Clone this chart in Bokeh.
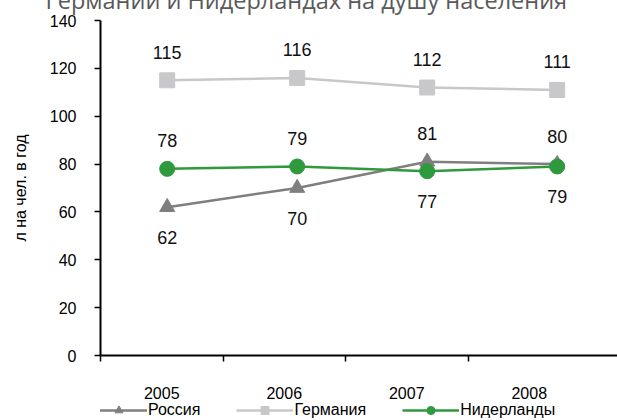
from bokeh.plotting import figure
from bokeh.layouts import column
from bokeh.models import (ColumnDataSource, Range1d, FixedTicker, LinearAxis,
                          Legend, LegendItem, CustomJSTickFormatter)
from bokeh.embed import file_html
from bokeh.resources import INLINE

# ---- data ----
years = ["2005", "2006", "2007", "2008"]
russia = [62, 70, 81, 80]
germany = [115, 116, 112, 111]
netherlands = [78, 79, 77, 79]
y_ticks = [0, 20, 40, 60, 80, 100, 120, 140]
title_text = "Германии и Нидерландах на душу населения"
y_label = "л на чел. в год"
series_names = ["Россия", "Германия", "Нидерланды"]

# label placement (above / below the point)
russia_pos = ["below", "below", "above", "above"]
germany_pos = ["above", "above", "above", "above"]
netherlands_pos = ["above", "above", "below", "below"]

FONT = "Liberation Sans"
C_RU = "#7f7f80"
C_DE = "#c8c8ca"
C_NL = "#2e993d"

idx = list(range(len(years)))

p = figure(width=617, height=446,
           x_range=Range1d(-0.513, 3.464), y_range=Range1d(0, 140),
           output_backend="svg", toolbar_location=None,
           x_axis_location=None,
           min_border_left=100, min_border_right=0,
           min_border_top=46, min_border_bottom=65)
p.outline_line_color = None
p.grid.visible = False
p.background_fill_color = "white"

# title
p.title.text = title_text
p.title.text_font = "Open Sans"
p.title.text_font_size = "23.5px"
p.title.text_font_style = "normal"
p.title.text_color = "#595959"
p.title.align = "left"
p.title.offset = -55

# y axis
ya = p.yaxis[0]
ya.ticker = FixedTicker(ticks=y_ticks)
ya.major_tick_out = 6
ya.major_tick_in = 0
ya.minor_tick_out = 0
ya.minor_tick_in = 0
ya.axis_line_width = 2
ya.axis_line_color = "black"
ya.major_tick_line_width = 1.5
ya.major_label_text_font = FONT
ya.major_label_text_font_size = "16px"
ya.major_label_text_color = "black"
ya.major_label_standoff = 18
ya.axis_label = y_label
ya.axis_label_text_font = FONT
ya.axis_label_text_font_size = "16px"
ya.axis_label_text_font_style = "normal"
ya.axis_label_text_color = "black"
ya.axis_label_standoff = 18

# category x axis on its own range (category width 122.5 px)
p.extra_x_ranges = {"cat": Range1d(0, 517 / 122.5)}
xa = LinearAxis(x_range_name="cat")
xa.ticker = FixedTicker(ticks=[k + 0.5 for k in idx], minor_ticks=[k for k in idx])
xa.formatter = CustomJSTickFormatter(args=dict(years=years),
                                     code="return years[Math.floor(tick)] || ''")
xa.major_tick_out = 0
xa.major_tick_in = 0
xa.minor_tick_out = 6
xa.minor_tick_in = 0
xa.minor_tick_line_color = "black"
xa.minor_tick_line_width = 1.5
xa.axis_line_width = 2
xa.axis_line_color = "black"
xa.major_label_text_font = FONT
xa.major_label_text_font_size = "16px"
xa.major_label_text_color = "black"
xa.major_label_standoff = 25
p.add_layout(xa, "below")

OFF = {"above": -28, "below": 30}

# legend strip (separate small figure, overlapping the bottom of the chart)
q = figure(width=617, height=22, x_range=Range1d(0, 1), y_range=Range1d(1000, 1001),
           output_backend="svg", toolbar_location=None,
           x_axis_location=None, y_axis_location=None, min_border=0,
           styles={"margin-top": "-22px"})
q.outline_line_color = None
q.grid.visible = False
q.background_fill_alpha = 0
q.border_fill_alpha = 0


def series(vals, pos, color, marker):
    src = ColumnDataSource(dict(x=idx, y=vals, t=[str(v) for v in vals],
                                dy=[OFF[s] for s in pos]))
    p.line("x", "y", source=src, line_color=color, line_width=2.5)
    p.scatter("x", "y", source=src, marker=marker, size=15,
              fill_color=color, line_color=color)
    p.text("x", "y", text="t", source=src, y_offset="dy",
           text_align="center", text_baseline="middle",
           text_font={"value": FONT}, text_font_size="18px", text_color="#111111")
    # legend proxies (same data, outside the strip's visible range)
    lq = q.line("x", "y", source=src, line_color=color, line_width=2.5)
    sq = q.scatter("x", "y", source=src, marker=marker, size=11,
                   fill_color=color, line_color=color)
    return [lq, sq]


de = series(germany, germany_pos, C_DE, "square")
ru = series(russia, russia_pos, C_RU, "triangle")
nl = series(netherlands, netherlands_pos, C_NL, "circle")

legend = Legend(items=[LegendItem(label=series_names[0], renderers=ru),
                       LegendItem(label=series_names[1], renderers=de),
                       LegendItem(label=series_names[2], renderers=nl)],
                orientation="horizontal", location=(-10, 0),
                glyph_width=57, glyph_height=20, label_standoff=1, spacing=36,
                padding=0, margin=0, border_line_color=None,
                background_fill_alpha=0, label_height=20,
                label_text_font=FONT, label_text_font_size="16px",
                label_text_color="black")
q.add_layout(legend, "center")

layout = column(p, q, spacing=0, styles={"margin-top": "-26px"})

open("out.html", "w").write(file_html(layout, INLINE))
